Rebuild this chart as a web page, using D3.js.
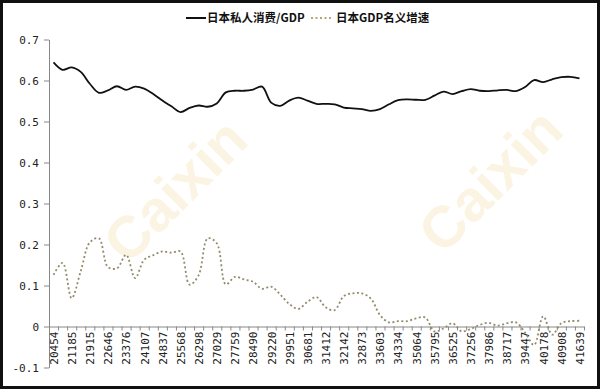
<!DOCTYPE html>
<html>
<head>
<meta charset="utf-8">
<script src="https://cdn.jsdelivr.net/npm/d3@7"></script>
<style>
  body { margin: 0; background: #fff; }
  svg { display: block; }
  .axis text { font-family: "DejaVu Sans Mono", monospace; font-size: 11px; fill: #222; }
  .axis path, .axis line { stroke: #888; }
</style>
</head>
<body>
<div id="chart"></div>
<script>
// category labels (Excel date serials, one per year 1956-2014)
var serials = [20454, 20820, 21185, 21550, 21915, 22281, 22646, 23011, 23376, 23742,
  24107, 24472, 24837, 25203, 25568, 25933, 26298, 26664, 27029, 27394,
  27759, 28125, 28490, 28855, 29220, 29586, 29951, 30316, 30681, 31047,
  31412, 31777, 32142, 32508, 32873, 33238, 33603, 33969, 34334, 34699,
  35064, 35430, 35795, 36160, 36525, 36891, 37256, 37621, 37986, 38352,
  38717, 39082, 39447, 39813, 40178, 40543, 40908, 41274, 41639];

// 日本私人消费/GDP
var consumption = [0.644, 0.626, 0.632, 0.621, 0.592, 0.570, 0.576, 0.586, 0.577, 0.585,
  0.580, 0.567, 0.551, 0.537, 0.523, 0.533, 0.539, 0.536, 0.544, 0.571,
  0.575, 0.575, 0.578, 0.585, 0.546, 0.538, 0.551, 0.558, 0.551, 0.543,
  0.543, 0.542, 0.534, 0.532, 0.530, 0.526, 0.530, 0.542, 0.552, 0.554,
  0.553, 0.553, 0.563, 0.573, 0.567, 0.574, 0.579, 0.575, 0.574, 0.576,
  0.577, 0.574, 0.584, 0.601, 0.596, 0.603, 0.608, 0.609, 0.605];

// 日本GDP名义增速
var growth = [0.126, 0.155, 0.069, 0.135, 0.205, 0.215, 0.145, 0.142, 0.175, 0.118,
  0.163, 0.174, 0.183, 0.180, 0.183, 0.102, 0.125, 0.215, 0.203, 0.103,
  0.121, 0.115, 0.109, 0.092, 0.097, 0.078, 0.055, 0.043, 0.060, 0.072,
  0.047, 0.040, 0.074, 0.081, 0.081, 0.068, 0.028, 0.010, 0.013, 0.013,
  0.020, 0.022, -0.012, -0.005, 0.008, -0.012, -0.006, 0.004, 0.009, 0.002,
  0.008, 0.010, -0.015, -0.045, 0.025, -0.020, 0.008, 0.013, 0.014];

var yTicks = [-0.1, 0, 0.1, 0.2, 0.3, 0.4, 0.5, 0.6, 0.7];
var seriesNames = ["日本私人消费/GDP", "日本GDP名义增速"];

var width = 600, height = 390;
var margin = {top: 39.5, right: 16, bottom: 22.5, left: 49};

var svg = d3.select("#chart").append("svg")
  .attr("width", width)
  .attr("height", height);

svg.append("rect")
  .attr("x", 1.5).attr("y", 1.5)
  .attr("width", width - 3).attr("height", height - 4)
  .attr("fill", "#fff")
  .attr("stroke", "#111")
  .attr("stroke-width", 3);

// watermark
[[175, 190], [490, 180]].forEach(function(p){
  svg.append("text")
    .attr("transform", "translate(" + p[0] + "," + p[1] + ") rotate(-45)")
    .attr("text-anchor", "middle")
    .attr("dy", "0.35em")
    .style("font-family", "Arial, 'Liberation Sans', sans-serif")
    .style("font-weight", "bold")
    .style("font-size", "58px")
    .style("fill", "#fbf4e3")
    .text("Caixin");
});

var idx = d3.range(serials.length);

var x = d3.scalePoint()
  .domain(idx)
  .range([margin.left, width - margin.right])
  .padding(0.5);

// boundaries between categories, for the tick marks
var xb = d3.scaleLinear()
  .domain([0, serials.length])
  .range([margin.left, width - margin.right]);

var y = d3.scaleLinear()
  .domain([-0.1, 0.7])
  .range([height - margin.bottom, margin.top]);

// y axis
svg.append("g")
  .attr("class", "axis")
  .attr("transform", "translate(" + margin.left + ",0)")
  .call(d3.axisLeft(y)
    .tickValues(yTicks)
    .tickSize(5)
    .tickSizeOuter(0)
    .tickPadding(5)
    .tickFormat(function(d){ return d === 0 ? "0" : d.toFixed(1).replace("−", "-"); }));

// x axis line + tick marks at category boundaries
svg.append("g")
  .attr("class", "axis")
  .attr("transform", "translate(0," + y(0) + ")")
  .call(d3.axisBottom(xb)
    .tickValues(d3.range(serials.length + 1))
    .tickSize(4)
    .tickSizeOuter(0)
    .tickFormat(""));

// x labels every second category
var xl = svg.append("g")
  .attr("class", "axis")
  .attr("transform", "translate(0," + y(0) + ")")
  .call(d3.axisBottom(x)
    .tickValues(idx.filter(function(i){ return i % 2 === 0; }))
    .tickSize(0)
    .tickFormat(function(i){ return serials[i]; }));
xl.select(".domain").remove();
xl.selectAll("text")
  .attr("transform", "rotate(-90)")
  .attr("x", -5)
  .attr("y", 0)
  .attr("dy", "0.35em")
  .style("text-anchor", "end");

var line = function(vals){
  return d3.line()
    .x(function(d, i){ return x(i); })
    .y(function(d){ return y(d); })
    .curve(d3.curveCatmullRom.alpha(0.5))(vals);
};

svg.append("path")
  .attr("d", line(growth))
  .attr("fill", "none")
  .attr("stroke", "#938c6c")
  .attr("stroke-width", 1.8)
  .attr("stroke-dasharray", "2,2.5");

svg.append("path")
  .attr("d", line(consumption))
  .attr("fill", "none")
  .attr("stroke", "#111")
  .attr("stroke-width", 1.8);

// legend
var lg = svg.append("g")
  .attr("class", "legend")
  .attr("transform", "translate(0,18)");
lg.append("line")
  .attr("x1", 186).attr("x2", 206).attr("y1", 0).attr("y2", 0)
  .attr("stroke", "#111").attr("stroke-width", 2);
lg.append("text")
  .attr("x", 207).attr("y", 0).attr("dy", "0.35em")
  .style("font-family", "'Noto Sans CJK SC', sans-serif")
  .style("font-weight", "bold")
  .style("font-size", "11.5px")
  .style("fill", "#111")
  .text(seriesNames[0]);
lg.append("line")
  .attr("x1", 311).attr("x2", 331).attr("y1", 0).attr("y2", 0)
  .attr("stroke", "#b3a877").attr("stroke-width", 2)
  .attr("stroke-dasharray", "2,2.5");
lg.append("text")
  .attr("x", 336).attr("y", 0).attr("dy", "0.35em")
  .style("font-family", "'Noto Sans CJK SC', sans-serif")
  .style("font-weight", "bold")
  .style("font-size", "11.5px")
  .style("fill", "#111")
  .text(seriesNames[1]);
</script>
</body>
</html>
